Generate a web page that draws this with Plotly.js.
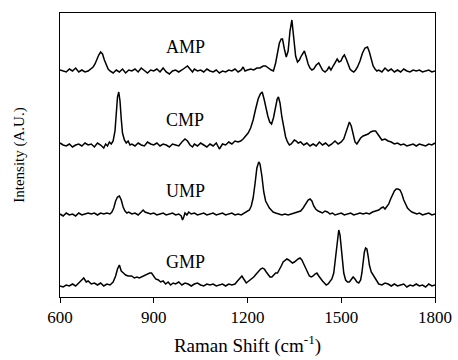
<!DOCTYPE html>
<html>
<head>
<meta charset="utf-8">
<script src="https://cdn.plot.ly/plotly-3.0.1.min.js"></script>
<style>html,body{margin:0;padding:0;background:#fff;}#chart{width:458px;height:360px;}</style>
</head>
<body>
<div id="chart"></div>
<script>
// Spectra: [Raman shift (cm-1), intensity above the trace's own baseline (A.U.)]
var ampSpectrum = [[600,1],[610,0],[620,-1],[630,2],[640,0],[650,3],[660,-1],[670,1],[680,-1],[690,0],[700,2],[706,4],[712,7],[718,12],[724,16],[730,19],[736,17],[742,11],[748,6],[754,2],[760,0],[770,-2],[780,1],[790,-1],[800,2],[810,-2],[820,1],[830,0],[840,2],[850,-1],[860,3],[870,0],[880,-2],[890,1],[900,0],[910,2],[920,-1],[930,3],[940,-1],[950,-3],[960,0],[970,1],[980,-1],[990,1],[1000,3],[1008,5],[1016,2],[1024,-1],[1030,2],[1040,0],[1050,1],[1060,-1],[1070,2],[1080,0],[1090,-1],[1100,1],[1110,-2],[1120,0],[1130,-1],[1140,1],[1150,0],[1160,2],[1170,-1],[1180,1],[1186,4],[1192,0],[1200,1],[1210,2],[1220,1],[1230,3],[1240,3],[1250,5],[1258,5],[1266,3],[1276,1],[1283,0],[1290,8],[1296,18],[1302,28],[1308,32],[1312,32],[1318,22],[1324,14],[1330,20],[1336,40],[1342,51],[1348,36],[1354,15],[1360,9],[1366,11],[1372,15],[1378,19],[1382,20],[1388,14],[1394,7],[1400,3],[1406,1],[1412,2],[1420,6],[1428,8],[1434,5],[1440,1],[1448,-1],[1455,1],[1461,4],[1467,1],[1474,5],[1480,9],[1487,12],[1493,9],[1499,10],[1505,14],[1510,16],[1516,12],[1522,6],[1528,2],[1534,0],[1540,-1],[1546,1],[1552,4],[1560,10],[1568,18],[1576,23],[1584,24],[1590,19],[1596,11],[1602,5],[1608,2],[1614,0],[1620,1],[1630,-1],[1640,3],[1650,0],[1660,2],[1670,-1],[1680,1],[1690,-1],[1700,2],[1710,0],[1720,-1],[1730,1],[1740,0],[1750,1],[1760,-1],[1770,0],[1780,1],[1790,-1],[1800,0]];

var cmpSpectrum = [[600,2],[610,0],[620,-1],[630,1],[640,-2],[650,0],[660,1],[670,-1],[680,2],[690,0],[700,1],[710,-2],[720,2],[730,0],[740,-3],[746,1],[752,-1],[758,3],[764,1],[770,4],[776,14],[780,32],[784,48],[788,53],[792,44],[796,26],[800,12],[806,5],[812,2],[818,4],[824,0],[830,1],[840,-1],[850,2],[860,0],[870,-1],[880,3],[890,1],[900,0],[910,2],[920,-1],[930,1],[940,0],[950,-2],[960,1],[970,0],[980,-1],[990,3],[1000,6],[1008,4],[1016,0],[1024,-2],[1030,1],[1040,-1],[1050,2],[1060,0],[1070,-2],[1080,1],[1090,-1],[1100,2],[1110,-4],[1120,1],[1130,0],[1140,3],[1150,1],[1160,4],[1170,3],[1178,4],[1186,6],[1194,9],[1202,12],[1210,17],[1218,25],[1226,36],[1234,46],[1241,51],[1247,53],[1253,46],[1259,37],[1265,29],[1271,23],[1277,21],[1283,27],[1289,38],[1295,46],[1299,48],[1304,42],[1310,28],[1316,16],[1322,8],[1328,3],[1334,0],[1340,1],[1350,5],[1356,4],[1362,2],[1370,3],[1380,0],[1390,2],[1400,-1],[1410,1],[1420,-1],[1430,3],[1440,0],[1450,2],[1460,-1],[1470,1],[1480,4],[1490,1],[1500,3],[1508,6],[1514,12],[1520,19],[1526,23],[1532,19],[1538,9],[1544,3],[1550,1],[1556,4],[1562,7],[1570,9],[1578,10],[1586,11],[1594,13],[1602,14],[1610,14],[1618,10],[1624,7],[1630,5],[1640,6],[1650,4],[1660,3],[1670,1],[1680,2],[1690,0],[1700,1],[1710,-1],[1720,0],[1730,1],[1740,-1],[1750,1],[1760,0],[1770,-1],[1780,1],[1790,0],[1800,2]];

var umpSpectrum = [[600,0],[610,-2],[620,1],[630,-1],[640,0],[650,-2],[660,1],[670,-1],[680,0],[690,1],[700,0],[710,1],[720,-1],[730,1],[740,0],[750,1],[760,0],[766,2],[772,6],[778,13],[784,17],[790,18],[796,14],[802,7],[808,3],[814,1],[820,2],[830,0],[840,1],[850,-1],[860,2],[866,4],[872,2],[880,1],[890,0],[900,1],[910,-1],[920,0],[930,1],[940,-1],[950,0],[960,1],[970,-1],[980,0],[988,-2],[992,-6],[996,-3],[1000,1],[1006,-1],[1012,2],[1020,0],[1030,1],[1040,-1],[1050,0],[1060,1],[1070,-1],[1080,0],[1090,1],[1100,-1],[1110,0],[1120,1],[1130,-1],[1140,0],[1150,1],[1160,-1],[1170,0],[1180,-1],[1190,1],[1198,2],[1206,4],[1212,8],[1218,16],[1224,30],[1230,46],[1236,52],[1240,50],[1246,38],[1252,22],[1258,13],[1264,9],[1270,6],[1276,4],[1282,2],[1290,1],[1300,0],[1310,-1],[1320,0],[1330,-1],[1340,0],[1350,1],[1360,2],[1370,3],[1378,6],[1386,10],[1394,14],[1400,15],[1406,13],[1412,8],[1418,5],[1426,3],[1434,2],[1440,1],[1448,3],[1456,2],[1464,0],[1472,1],[1480,-1],[1490,0],[1500,1],[1510,-1],[1520,0],[1530,1],[1540,-1],[1550,0],[1560,1],[1570,0],[1580,1],[1590,0],[1600,2],[1610,3],[1620,4],[1628,6],[1634,7],[1640,5],[1646,7],[1652,10],[1658,15],[1664,20],[1670,23],[1676,25],[1682,25],[1688,24],[1694,20],[1700,14],[1706,9],[1712,6],[1718,4],[1726,2],[1734,1],[1742,0],[1750,1],[1760,-1],[1770,0],[1780,1],[1790,-1],[1800,0]];

var gmpSpectrum = [[600,-1],[610,-2],[620,0],[630,-1],[640,1],[650,-1],[660,2],[668,5],[676,7],[684,3],[690,4],[700,1],[710,2],[720,0],[730,2],[740,-1],[750,1],[760,0],[770,3],[778,9],[784,16],[790,20],[796,14],[803,12],[810,10],[818,9],[829,9],[838,7],[846,8],[854,7],[861,8],[870,9],[880,11],[887,12],[893,12],[899,9],[906,6],[915,5],[922,3],[930,4],[938,1],[946,3],[954,0],[962,2],[970,1],[980,3],[990,0],[1000,2],[1010,1],[1020,-1],[1030,1],[1040,2],[1050,0],[1060,-1],[1070,1],[1080,0],[1090,1],[1100,-1],[1110,0],[1120,1],[1130,-1],[1140,1],[1150,0],[1160,1],[1168,4],[1176,7],[1182,9],[1188,6],[1196,2],[1204,4],[1212,6],[1220,8],[1228,11],[1236,14],[1242,16],[1248,17],[1254,16],[1260,13],[1266,10],[1272,8],[1278,8],[1284,10],[1290,12],[1296,12],[1302,15],[1308,19],[1314,23],[1320,25],[1326,26],[1332,25],[1338,23],[1344,22],[1350,23],[1356,25],[1362,26],[1368,27],[1374,25],[1380,21],[1386,17],[1392,12],[1398,9],[1404,8],[1410,9],[1416,11],[1422,12],[1428,9],[1434,6],[1440,4],[1446,2],[1452,0],[1458,1],[1464,3],[1470,6],[1476,12],[1480,22],[1484,36],[1488,48],[1492,55],[1496,50],[1500,36],[1504,22],[1508,12],[1514,5],[1520,3],[1526,3],[1532,6],[1538,8],[1544,6],[1550,3],[1556,2],[1562,5],[1566,12],[1570,24],[1574,33],[1578,37],[1582,36],[1586,29],[1590,20],[1596,13],[1602,10],[1608,6],[1614,3],[1620,1],[1630,0],[1640,2],[1650,1],[1660,-1],[1670,1],[1680,-1],[1690,0],[1700,1],[1710,-2],[1720,0],[1730,-1],[1740,1],[1750,-1],[1760,0],[1770,-2],[1780,1],[1790,-1],[1800,0]];

var seriesNames = ["AMP", "CMP", "UMP", "GMP"];
var seriesData = [ampSpectrum, cmpSpectrum, umpSpectrum, gmpSpectrum];
var baselineOffsets = [226, 152, 83, 12];
var labelHeights = [250, 177, 106, 35];
var labelShift = 1000;
var xTickValues = [600, 900, 1200, 1500, 1800];

var traces = seriesData.map(function (s, i) {
  return {
    x: s.map(function (p) { return p[0]; }),
    y: s.map(function (p) { return p[1] + baselineOffsets[i]; }),
    type: "scatter",
    mode: "lines",
    name: seriesNames[i],
    line: { color: "#000", width: 1.5 },
    hoverinfo: "skip"
  };
});

var annotations = seriesNames.map(function (n, i) {
  return {
    x: labelShift, y: labelHeights[i], xref: "x", yref: "y",
    text: n, showarrow: false,
    font: { family: "Liberation Serif, Times New Roman, serif", size: 18, color: "#000" }
  };
});

var layout = {
  width: 458, height: 360,
  margin: { l: 60, r: 23, t: 13, b: 63 },
  paper_bgcolor: "#fff", plot_bgcolor: "#fff",
  showlegend: false,
  font: { family: "Liberation Serif, Times New Roman, serif", color: "#000" },
  xaxis: {
    range: [600, 1800],
    tickvals: xTickValues,
    ticktext: xTickValues.map(String),
    ticks: "outside", ticklen: 5, tickwidth: 1, tickcolor: "#000",
    showline: true, linecolor: "#000", linewidth: 1, mirror: true,
    showgrid: false, zeroline: false,
    tickfont: { size: 17, family: "Liberation Serif, serif", color: "#000" },
    title: { text: "Raman Shift (cm<sup>-1</sup>)", font: { size: 19, family: "Liberation Serif, serif", color: "#000" }, standoff: 12 }
  },
  yaxis: {
    range: [0, 284],
    showticklabels: false, ticks: "",
    showline: true, linecolor: "#000", linewidth: 1, mirror: true,
    showgrid: false, zeroline: false,
    title: { text: "Intensity (A.U.)", font: { size: 15, family: "Liberation Serif, serif", color: "#000" }, standoff: 30 }
  },
  annotations: annotations
};

Plotly.newPlot("chart", traces, layout, { staticPlot: true, displayModeBar: false });
</script>
</body>
</html>
